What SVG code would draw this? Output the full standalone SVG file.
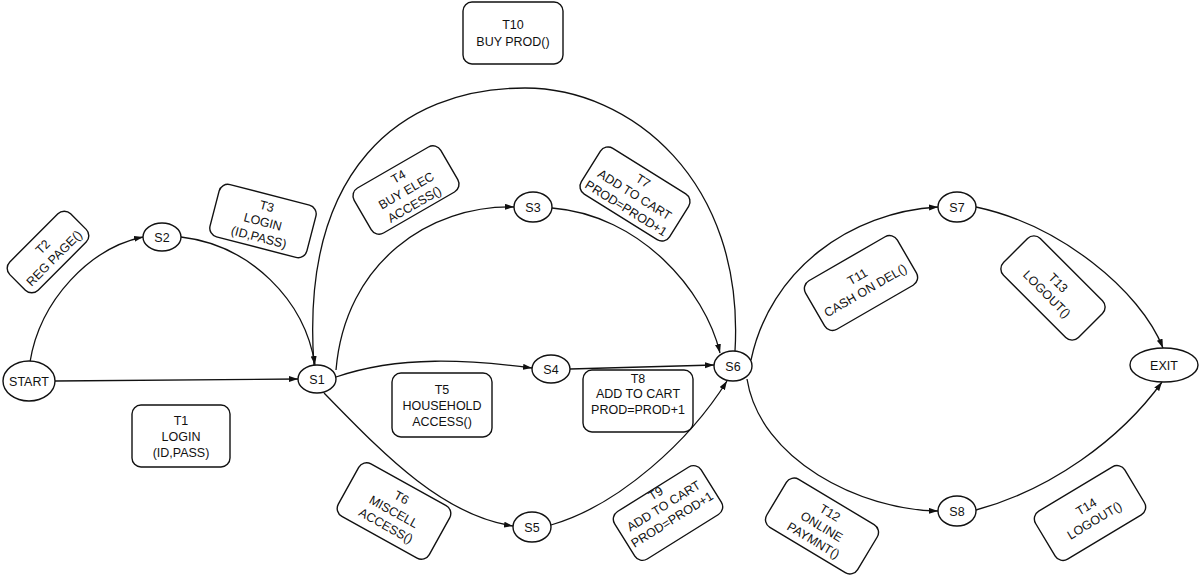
<svg xmlns="http://www.w3.org/2000/svg" width="1200" height="580" viewBox="0 0 1200 580">
<defs>
<style>
.st ellipse{fill:#fff;stroke:#111;stroke-width:1.4}
.st text,.lb text{font-family:"Liberation Sans",Arial,sans-serif;font-size:12.5px;fill:#111;text-anchor:middle}
.lb rect{fill:#fff;stroke:#111;stroke-width:1.4}
#edges path{fill:none;stroke:#111;stroke-width:1.3}
.a{marker-end:url(#arr)}
</style>
<marker id="arr" markerWidth="10" markerHeight="7" refX="9" refY="3" orient="auto" markerUnits="userSpaceOnUse">
<path d="M0,0 L9,3 L0,6 z" fill="#111"/>
</marker>
</defs>
<rect width="1200" height="580" fill="#fff"/>

<g id="edges">
<path class="a" d="M55,381 L298,379"/>
<path class="a" d="M30,362 C40,300 90,248 143,237"/>
<path class="a" d="M181,237 C250,245 305,300 315,365"/>
<path d="M314,366 C300,170 400,88 525,88 C630,88 745,180 735,351"/>
<path class="a" d="M336,370 C345,262 430,205 514,207"/>
<path class="a" d="M552,208 C640,215 705,290 720,353"/>
<path class="a" d="M336,377 C400,355 470,360 532,368"/>
<path class="a" d="M570,369 L714,365"/>
<path class="a" d="M324,393 C380,450 440,515 513,526"/>
<path class="a" d="M551,525 C620,505 690,440 727,381"/>
<path class="a" d="M751,360 C770,270 850,212 938,207"/>
<path class="a" d="M747,379 C760,460 860,510 938,511"/>
<path class="a" d="M976,207 C1060,225 1140,290 1163,348"/>
<path class="a" d="M976,510 C1050,490 1120,440 1162,382"/>
</g>

<g id="START" class="st"><ellipse cx="29" cy="381" rx="26" ry="20"/><text x="29" y="386">START</text></g>
<g id="S1" class="st"><ellipse cx="317" cy="379" rx="19" ry="14"/><text x="317" y="384">S1</text></g>
<g id="S2" class="st"><ellipse cx="162" cy="237" rx="19" ry="14"/><text x="162" y="242">S2</text></g>
<g id="S3" class="st"><ellipse cx="533" cy="207" rx="19" ry="15"/><text x="533" y="212">S3</text></g>
<g id="S4" class="st"><ellipse cx="551" cy="369" rx="19" ry="14"/><text x="551" y="374">S4</text></g>
<g id="S5" class="st"><ellipse cx="532" cy="527" rx="19" ry="15"/><text x="532" y="532">S5</text></g>
<g id="S6" class="st"><ellipse cx="733" cy="366" rx="19" ry="15"/><text x="733" y="371">S6</text></g>
<g id="S7" class="st"><ellipse cx="957" cy="207" rx="19" ry="15"/><text x="957" y="212">S7</text></g>
<g id="S8" class="st"><ellipse cx="957" cy="511" rx="19" ry="15"/><text x="957" y="516">S8</text></g>
<g id="EXIT" class="st"><ellipse cx="1164" cy="365" rx="34" ry="17"/><text x="1164" y="370">EXIT</text></g>

<g id="T1" class="lb"><rect x="132" y="405" width="98" height="62" rx="9"/><text x="181" y="425">T1</text><text x="181" y="441">LOGIN</text><text x="181" y="457">(ID,PASS)</text></g>
<g id="T2" class="lb" transform="translate(48,252) rotate(-45)"><rect x="-43" y="-20" width="86" height="40" rx="9"/><text x="0" y="-3">T2</text><text x="0" y="13">REG PAGE()</text></g>
<g id="T3" class="lb" transform="translate(263,221) rotate(14.5)"><rect x="-50" y="-27" width="100" height="54" rx="9"/><text x="0" y="-11">T3</text><text x="0" y="5">LOGIN</text><text x="0" y="21">(ID,PASS)</text></g>
<g id="T4" class="lb" transform="translate(406,190) rotate(-30)"><rect x="-50" y="-26" width="100" height="52" rx="9"/><text x="0" y="-11">T4</text><text x="0" y="5">BUY ELEC</text><text x="0" y="21">ACCESS()</text></g>
<g id="T5" class="lb"><rect x="392" y="373" width="100" height="64" rx="9"/><text x="442" y="394">T5</text><text x="442" y="410">HOUSEHOLD</text><text x="442" y="426">ACCESS()</text></g>
<g id="T6" class="lb" transform="translate(394,511) rotate(29)"><rect x="-52" y="-30" width="104" height="60" rx="9"/><text x="0" y="-11">T6</text><text x="0" y="5">MISCELL</text><text x="0" y="21">ACCESS()</text></g>
<g id="T7" class="lb" transform="translate(635,194) rotate(32)"><rect x="-52" y="-27" width="104" height="54" rx="9"/><text x="0" y="-11">T7</text><text x="0" y="5">ADD TO CART</text><text x="0" y="21">PROD=PROD+1</text></g>
<g id="T8" class="lb"><rect x="583" y="370" width="110" height="62" rx="9"/><text x="638" y="383">T8</text><text x="638" y="398">ADD TO CART</text><text x="638" y="414">PROD=PROD+1</text></g>
<g id="T9" class="lb" transform="translate(668,513) rotate(-32)"><rect x="-51" y="-28" width="102" height="56" rx="9"/><text x="0" y="-19">T9</text><text x="0" y="-4">ADD TO CART</text><text x="0" y="12">PROD=PROD+1</text></g>
<g id="T10" class="lb"><rect x="463" y="2" width="100" height="62" rx="9"/><text x="513" y="29">T10</text><text x="513" y="46">BUY PROD()</text></g>
<g id="T11" class="lb" transform="translate(861,283) rotate(-30)"><rect x="-53" y="-28" width="106" height="56" rx="9"/><text x="0" y="-3">T11</text><text x="0" y="13">CASH ON DEL()</text></g>
<g id="T12" class="lb" transform="translate(822,526) rotate(31)"><rect x="-53" y="-28" width="106" height="56" rx="9"/><text x="0" y="-11">T12</text><text x="0" y="5">ONLINE</text><text x="0" y="21">PAYMNT()</text></g>
<g id="T13" class="lb" transform="translate(1053,288) rotate(45)"><rect x="-53" y="-26" width="106" height="52" rx="9"/><text x="0" y="-3">T13</text><text x="0" y="13">LOGOUT()</text></g>
<g id="T14" class="lb" transform="translate(1090,513) rotate(-31)"><rect x="-52" y="-28" width="104" height="56" rx="9"/><text x="0" y="-3">T14</text><text x="0" y="13">LOGOUT()</text></g>
</svg>
